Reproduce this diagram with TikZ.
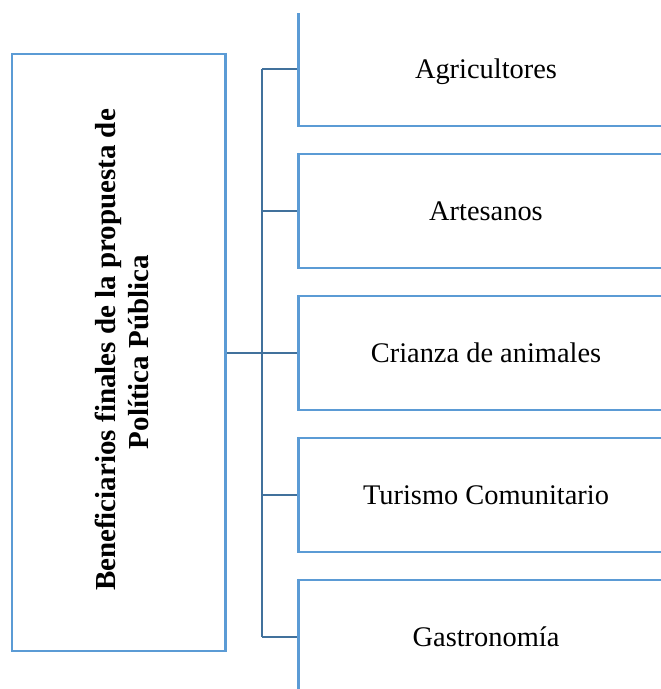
\documentclass[tikz,border=0pt]{standalone}
\usepackage{fontspec}
\setmainfont[Ligatures=NoCommon]{Liberation Serif}
\definecolor{boxblue}{HTML}{5B9BD5}
\definecolor{linkblue}{HTML}{41719C}
\begin{document}
\begin{tikzpicture}[x=1pt,y=-1pt,
  bigbox/.style={draw=boxblue,line width=2.4pt,minimum width=213pt,minimum height=597pt,inner sep=0pt},
  itembox/.style={draw=boxblue,line width=2.4pt,minimum width=374pt,minimum height=114pt,inner sep=0pt,
    text height=18.8pt,text depth=0pt,font=\fontsize{28.4}{32}\selectfont},
  vtext/.style={rotate=90,anchor=base,inner sep=0pt,font=\fontsize{29}{33}\selectfont\bfseries},
  link/.style={draw=linkblue,line width=2.2pt}]
\useasboundingbox (0,0) rectangle (661,689);
\clip (0,13.5) rectangle (661,689);
% connectors
\coordinate (top) at (262,69);
\coordinate (bot) at (262,637);
\node[itembox] (b1) at (486,69) {Agricultores};
\node[itembox] (b2) at (486,211) {Artesanos};
\node[itembox] (b3) at (486,353) {Crianza de animales};
\node[itembox] (b4) at (486,495) {Turismo Comunitario};
\node[itembox] (b5) at (486,637) {Gastronomía};
\node[bigbox] (main) at (118.5,352.5) {};
\node[vtext] (t1) at (115.5,350) {Beneficiarios finales de la propuesta de};
\node[vtext] (t2) at (148,352) {Política Pública};
\draw[link] (top) -- (bot);
\draw[link] (top) -- (b1.west);
\draw[link] (top |- b2.west) -- (b2.west);
\draw[link] (main.east |- b3.west) -- (b3.west);
\draw[link] (top |- b4.west) -- (b4.west);
\draw[link] (bot) -- (b5.west);
% redraw box outlines over connector ends
\foreach \b in {b1,b2,b3,b4,b5}{\draw[boxblue,line width=2.4pt] (\b.north west) -- (\b.south west);}
\draw[boxblue,line width=2.4pt] (main.north east) -- (main.south east);
\end{tikzpicture}
\end{document}
